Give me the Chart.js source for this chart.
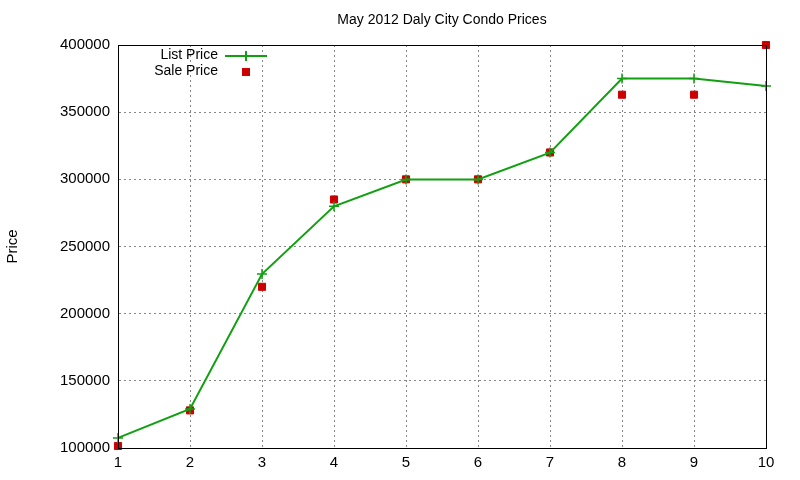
<!DOCTYPE html>
<html>
<head>
<script src="https://cdn.jsdelivr.net/npm/chart.js@4"></script>
<style>body{margin:0;background:#fff}#wrap{width:800px;height:480px}</style>
</head>
<body>
<div id="wrap"><canvas id="chart"></canvas></div>
<script>
const months = ['1', '2', '3', '4', '5', '6', '7', '8', '9', '10'];
const listPrice = [107500, 129000, 229500, 279900, 299900, 299900, 319900, 375000, 375000, 369500];
const salePrice = [101500, 128000, 220000, 285000, 300000, 300000, 320000, 363000, 363000, 400000];
const FONT = '"Liberation Sans", Arial, sans-serif';

// title and legend drawn gnuplot style
const extras = {
    id: 'extras',
    afterDraw(chart) {
        const ctx = chart.ctx;
        const a = chart.chartArea;
        ctx.save();
        ctx.fillStyle = '#000';
        ctx.font = '14px ' + FONT;
        ctx.textAlign = 'center';
        ctx.textBaseline = 'middle';
        ctx.fillText('May 2012 Daly City Condo Prices', (a.left + a.right) / 2, 20);
        ctx.textAlign = 'right';
        ctx.fillText('List Price', 218, 55);
        ctx.fillText('Sale Price', 218, 71);
        ctx.strokeStyle = '#11a011';
        ctx.lineWidth = 2;
        ctx.beginPath();
        ctx.moveTo(225, 56); ctx.lineTo(267, 56);
        ctx.moveTo(246, 51); ctx.lineTo(246, 61);
        ctx.stroke();
        ctx.fillStyle = '#cc0000';
        ctx.fillRect(242, 68, 8, 8);
        // plot box
        ctx.strokeStyle = '#000';
        ctx.lineWidth = 1;
        ctx.strokeRect(a.left + 0.5, a.top + 0.5, a.right - a.left, a.bottom - a.top);
        ctx.restore();
    }
};

new Chart(document.getElementById('chart'), {
    type: 'line',
    data: {
        labels: months,
        datasets: [
            {
                label: 'List Price',
                data: listPrice,
                borderColor: '#11a011',
                borderWidth: 2,
                pointStyle: 'cross',
                pointRadius: 5,
                pointBorderWidth: 1.5,
                pointBorderColor: '#11a011',
                tension: 0,
                clip: false
            },
            {
                label: 'Sale Price',
                data: salePrice,
                showLine: false,
                pointStyle: 'rect',
                pointRadius: 5,
                pointBackgroundColor: '#cc0000',
                pointBorderColor: '#cc0000',
                clip: false
            }
        ]
    },
    options: {
        responsive: true,
        maintainAspectRatio: false,
        animation: false,
        layout: { padding: { top: 45, right: 34, left: 0, bottom: 0 } },
        plugins: { legend: { display: false }, title: { display: false }, tooltip: { enabled: false } },
        scales: {
            x: {
                offset: false,
                afterFit: s => { s.height = 32; },
                grid: { color: '#888', drawTicks: false },
                border: { color: '#000', width: 1, dash: [2, 3] },
                ticks: { color: '#000', font: { size: 15, family: FONT }, padding: 6 }
            },
            y: {
                min: 100000,
                max: 400000,
                afterFit: s => { s.width = 118; },
                grid: { color: '#888', drawTicks: false },
                border: { color: '#000', width: 1, dash: [2, 3] },
                title: { display: true, text: 'Price', color: '#000', font: { size: 15, family: FONT } },
                ticks: { stepSize: 50000, color: '#000', font: { size: 15, family: FONT }, padding: 8,
                    callback: v => String(v) }
            }
        }
    },
    plugins: [extras]
});
</script>
</body>
</html>
